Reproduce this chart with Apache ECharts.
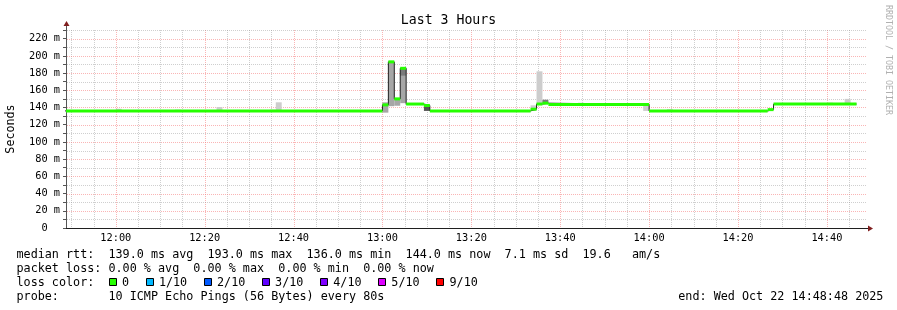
<!DOCTYPE html>
<html><head><meta charset="utf-8">
<script src="https://cdn.jsdelivr.net/npm/echarts@6/dist/echarts.min.js"></script>
<style>html,body{margin:0;padding:0;background:#fff}#c{width:897px;height:310px}</style>
</head><body><div id="c"></div>
<script>
// ---------- data ----------
const chartTitle = "Last 3 Hours";
const yAxisTitle = "Seconds";
const watermark = "RRDTOOL / TOBI OETIKER";
const rangeStart = "11:48:48";
const rangeEnd = "14:48:48";

// median rtt (ms), value holds from each time until the next one
const medianTimes  = ["11:48:00","13:00:00","13:01:20","13:02:40","13:04:00","13:05:20","13:09:20","13:10:40","13:33:20","13:34:40","13:36:00","13:37:20","14:00:00","14:26:40","14:28:00"];
const medianValues = [136, 143, 193, 150, 185.5, 144, 142.3, 136, 138, 144, 145, 143.5, 136, 137.5, 144];
const medianEnd = "14:46:40";

// smoke (spread of the pings) per 80 s step
const stepSeconds = 80;
const smokeTimes = ["12:00:00","12:13:20","12:22:40","12:34:40","12:36:00","13:00:00","13:01:20","13:02:40","13:04:00","13:04:00","13:09:20","13:33:20","13:34:40","13:36:00","13:44:00","13:58:40","14:04:00","14:40:00","14:44:00"];
const smokeLow   = [136, 136, 136, 136, 136, 134, 141.5, 142, 145, 177, 136, 136, 144, 145, 143.5, 136, 136, 144, 144];
const smokeHigh  = [138.5, 137.5, 140.5, 137.5, 146, 146, 193, 150, 185.5, 185.5, 142.3, 142.5, 182, 149, 145.5, 143.5, 138, 145.6, 150];
const smokeShade = [0, 0, 0, 0, 0, 1, 1, 1, 1, 2, 3, 0, 0, 2, 0, 0, 0, 0, 0];

const xTickLabels = ["12:00","12:20","12:40","13:00","13:20","13:40","14:00","14:20","14:40"];
const yMax = 230;
const yMajorStep = 20;
const yMinorStep = 10;

const statsLine = "median rtt:  139.0 ms avg  193.0 ms max  136.0 ms min  144.0 ms now  7.1 ms sd  19.6   am/s";
const lossLine  = "packet loss: 0.00 % avg  0.00 % max  0.00 % min  0.00 % now";
const lossTitle = "loss color:";
const lossLevels = ["0","1/10","2/10","3/10","4/10","5/10","9/10"];
const lossColors = ["#26ff00","#00b8ff","#0059ff","#5e00ff","#7e00ff","#dd00ff","#ff0000"];
const probeLine = "probe:       10 ICMP Echo Pings (56 Bytes) every 80s";
const endLine   = "end: Wed Oct 22 14:48:48 2025";

// ---------- helpers ----------
const toMin = s => { const p = s.split(':').map(Number); return p[0]*60 + p[1] + (p[2]||0)/60; };
const fmt = v => { const h = Math.floor(v/60 + 1e-6), m = Math.round(v - h*60); return String(h).padStart(2,'0') + ':' + String(m).padStart(2,'0'); };
const stepMin = stepSeconds/60;
const MONO = "'DejaVu Sans Mono', monospace";
const shadeColors = ['#cdcdcd','#a6a6a6','#7a7a7a','#555555'];
const gridMinor = 'rgba(140,140,140,0.42)';
const gridMajor = 'rgba(245,120,120,0.55)';

const xMin = toMin(rangeStart), xMax = toMin(rangeEnd);
const majorTicks = xTickLabels.map(toMin);
const gridTimes = [];
for (let t = Math.ceil(xMin/5)*5; t <= xMax; t += 5) gridTimes.push([t, t % 20 === 0 ? 1 : 0]);
const gridValues = [];
for (let v = yMinorStep; v <= yMax; v += yMinorStep) gridValues.push([v, v % yMajorStep === 0 ? 1 : 0]);

const medPts = medianTimes.map((t,i) => [toMin(t), medianValues[i]]);
medPts.push([toMin(medianEnd), medianValues[medianValues.length-1]]);
const bandData = medianTimes.map((t,i) => [toMin(t), i+1 < medianTimes.length ? toMin(medianTimes[i+1]) : toMin(medianEnd), medianValues[i]]);
const smokeData = smokeTimes.map((t,i) => [toMin(t), toMin(t)+stepMin, smokeLow[i], smokeHigh[i], smokeShade[i]]);

function clipRect(x1, x2, cs) {
  const l = Math.max(x1, cs.x), r = Math.min(x2, cs.x + cs.width);
  return [l, r];
}

const chart = echarts.init(document.getElementById('c'), null, {renderer:'canvas'});
const option = {
  animation: false,
  backgroundColor: '#ffffff',
  title: { text: chartTitle, left: 'center', top: 14, padding: 0,
    textStyle: { fontFamily: MONO, fontSize: 13.2, fontWeight: 'normal', color: '#000' } },
  grid: { left: 66, right: 31, top: 30, bottom: 82, containLabel: false, outerBoundsMode: 'none' },
  xAxis: {
    type: 'value', min: xMin, max: xMax,
    axisLine: { show: true, lineStyle: { color: '#1f1f1f', width: 1 } },
    axisTick: { show: false },
    splitLine: { show: false },
    axisLabel: { customValues: majorTicks, formatter: v => fmt(v), fontFamily: MONO, fontSize: 10.3, color: '#000', margin: 5 }
  },
  yAxis: {
    type: 'value', min: 0, max: yMax, interval: yMinorStep,
    name: yAxisTitle, nameLocation: 'middle', nameRotate: 90, nameGap: 49,
    nameTextStyle: { fontFamily: MONO, fontSize: 11.7, color: '#000' },
    axisLine: { show: true, lineStyle: { color: '#555', width: 1 } },
    axisTick: { show: true, length: 3, lineStyle: { color: '#555' } },
    splitLine: { show: false },
    axisLabel: { fontFamily: MONO, fontSize: 10.3, color: '#000', margin: 6,
      formatter: v => v === 0 ? '0  ' : (v % yMajorStep === 0 ? v + ' m' : '') }
  },
  series: [
    { // vertical grid
      type: 'custom', z: 1, silent: true, data: gridTimes, encode: { x: 0 },
      renderItem: (params, api) => {
        const cs = params.coordSys;
        const x = Math.round(api.coord([api.value(0), 0])[0]) + 0.5;
        if (x <= cs.x + 1) return null;
        return { type: 'line', shape: { x1: x, y1: cs.y, x2: x, y2: cs.y + cs.height },
          style: { stroke: api.value(1) ? gridMajor : gridMinor, lineWidth: 1, lineDash: [1,1] } };
      }
    },
    { // horizontal grid
      type: 'custom', z: 1, silent: true, data: gridValues, encode: { y: 0 },
      renderItem: (params, api) => {
        const cs = params.coordSys;
        const y = Math.round(api.coord([xMin, api.value(0)])[1]) + 0.5;
        return { type: 'line', shape: { x1: cs.x + 1, y1: y, x2: cs.x + cs.width, y2: y },
          style: { stroke: api.value(1) ? gridMajor : gridMinor, lineWidth: 1, lineDash: [1,1] } };
      }
    },
    { // smoke
      type: 'custom', z: 2, silent: true, data: smokeData, encode: { x: [0,1], y: [2,3] },
      renderItem: (params, api) => {
        const cs = params.coordSys;
        const a = api.coord([api.value(0), api.value(3)]);
        const b = api.coord([api.value(1), api.value(2)]);
        const [l, r] = clipRect(a[0], b[0], cs);
        if (r <= l) return null;
        return { type: 'rect', shape: { x: l, y: a[1], width: r - l, height: b[1] - a[1] },
          style: { fill: shadeColors[api.value(4)] } };
      }
    },
    { // median line (dark)
      type: 'line', z: 3, silent: true, step: 'end', data: medPts, showSymbol: false, clip: true,
      lineStyle: { color: '#202020', width: 1 }
    },
    { // median loss-colour band
      type: 'custom', z: 4, silent: true, data: bandData, encode: { x: [0,1], y: 2 },
      renderItem: (params, api) => {
        const cs = params.coordSys;
        const a = api.coord([api.value(0), api.value(2)]);
        const b = api.coord([api.value(1), api.value(2)]);
        const [l, r] = clipRect(a[0], b[0], cs);
        if (r <= l) return null;
        return { type: 'rect', shape: { x: l, y: a[1] - 1.5, width: r - l, height: 3 },
          style: { fill: lossColors[0] } };
      }
    }
  ]
};
chart.setOption(option);

// axis arrows, watermark and legend text
const origin = chart.convertToPixel({gridIndex:0}, [xMin, 0]);
const topRight = chart.convertToPixel({gridIndex:0}, [xMax, yMax]);
const ax = Math.round(origin[0]) + 0.5, ay = Math.round(origin[1]) + 0.5;
const rx = topRight[0], ty = topRight[1];
const arrowColor = '#801f1f';
const g = [
  { type: 'line', shape: { x1: rx, y1: ay, x2: rx + 3, y2: ay }, style: { stroke: '#1f1f1f', lineWidth: 1 } },
  { type: 'polygon', shape: { points: [[rx + 2, ay - 3], [rx + 7, ay], [rx + 2, ay + 3]] }, style: { fill: arrowColor } },
  { type: 'line', shape: { x1: ax, y1: ty, x2: ax, y2: ty - 5 }, style: { stroke: '#555', lineWidth: 1 } },
  { type: 'polygon', shape: { points: [[ax - 3, ty - 4], [ax, ty - 9], [ax + 3, ty - 4]] }, style: { fill: arrowColor } },
  { type: 'text', x: 888, y: 5, rotation: -Math.PI/2,
    style: { text: watermark, font: "8.3px " + MONO, fill: '#b0b0b0', textAlign: 'left', textVerticalAlign: 'middle' } },
];
const lineY = [254.5, 268.5, 282.5, 296.7];
const legendFont = "11.76px " + MONO;
g.push({ type: 'text', x: 16.5, y: lineY[0], style: { text: statsLine, font: legendFont, fill: '#000', textVerticalAlign: 'middle' } });
g.push({ type: 'text', x: 16.5, y: lineY[1], style: { text: lossLine, font: legendFont, fill: '#000', textVerticalAlign: 'middle' } });
g.push({ type: 'text', x: 16.5, y: lineY[2], style: { text: lossTitle, font: legendFont, fill: '#000', textVerticalAlign: 'middle' } });
let bx = 108.7;
const charW = 7.08;
lossLevels.forEach((lab, i) => {
  g.push({ type: 'rect', shape: { x: Math.round(bx) + 0.5, y: 278.5, width: 7, height: 7 }, style: { fill: lossColors[i], stroke: '#000', lineWidth: 1 } });
  g.push({ type: 'text', x: bx + 13.3, y: lineY[2], style: { text: lab, font: legendFont, fill: '#000', textVerticalAlign: 'middle' } });
  bx = bx + 13.3 + lab.length * charW + 16.5;
});
g.push({ type: 'text', x: 16.5, y: lineY[3], style: { text: probeLine, font: legendFont, fill: '#000', textVerticalAlign: 'middle' } });
g.push({ type: 'text', x: 678.3, y: lineY[3], style: { text: endLine, font: legendFont, fill: '#000', textVerticalAlign: 'middle' } });
chart.setOption({ graphic: g.map(e => Object.assign({ silent: true }, e)) });
</script></body></html>
